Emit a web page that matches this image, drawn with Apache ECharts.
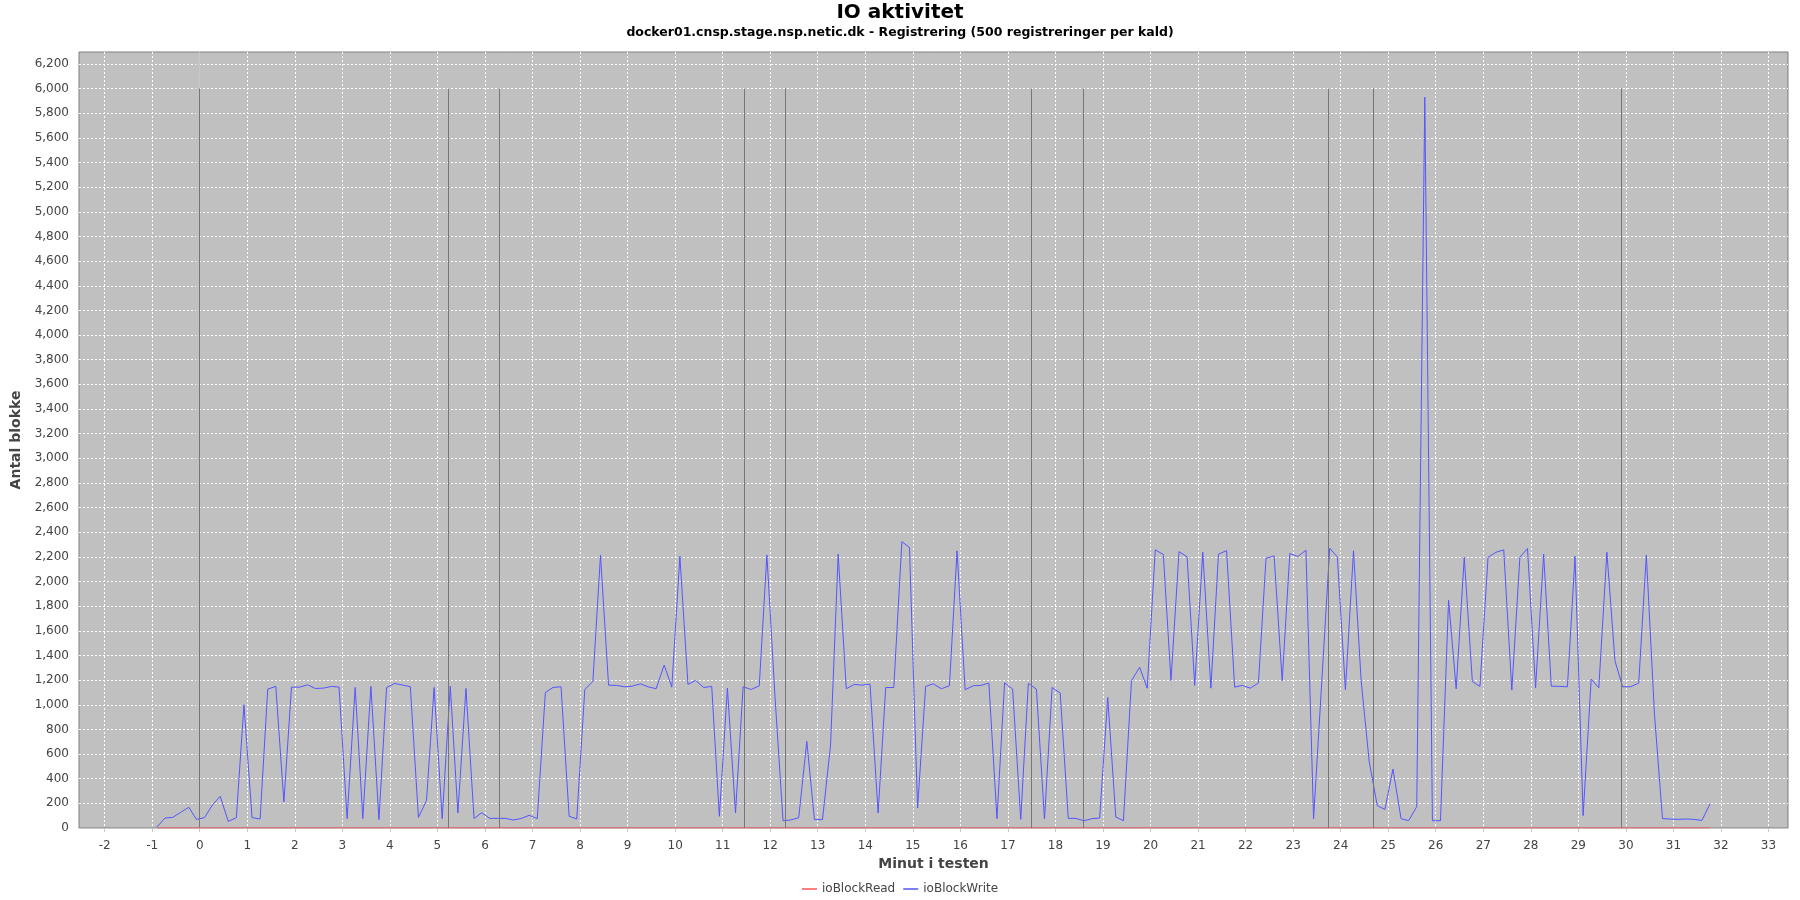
<!DOCTYPE html>
<html>
<head>
<meta charset="utf-8">
<script src="https://cdn.jsdelivr.net/npm/echarts@6/dist/echarts.min.js"></script>
<style>html,body{margin:0;padding:0;background:#fff}#c{width:1800px;height:900px}</style>
</head>
<body>
<div id="c"></div>
<script>
// sample times (minutes into the test)
const minutes = [-0.9,-0.73,-0.57,-0.4,-0.23,-0.07,
0.1,0.27,0.43,0.6,0.77,0.93, 1.1,1.27,1.43,1.6,1.77,1.93, 2.1,2.27,2.43,2.6,2.77,2.93,
3.1,3.27,3.43,3.6,3.77,3.93, 4.1,4.27,4.43,4.6,4.77,4.93, 5.1,5.27,5.43,5.6,5.77,5.93,
6.1,6.27,6.43,6.6,6.77,6.93, 7.1,7.27,7.43,7.6,7.77,7.93, 8.1,8.27,8.43,8.6,8.77,8.93,
9.1,9.27,9.43,9.6,9.77,9.93, 10.1,10.27,10.43,10.6,10.77,10.93, 11.1,11.27,11.43,11.6,11.77,11.93,
12.1,12.27,12.43,12.6,12.77,12.93, 13.1,13.27,13.43,13.6,13.77,13.93, 14.1,14.27,14.43,14.6,14.77,14.93,
15.1,15.27,15.43,15.6,15.77,15.93, 16.1,16.27,16.43,16.6,16.77,16.93, 17.1,17.27,17.43,17.6,17.77,17.93,
18.1,18.27,18.43,18.6,18.77,18.93, 19.1,19.27,19.43,19.6,19.77,19.93, 20.1,20.27,20.43,20.6,20.77,20.93,
21.1,21.27,21.43,21.6,21.77,21.93, 22.1,22.27,22.43,22.6,22.77,22.93, 23.1,23.27,23.43,23.6,23.77,23.93,
24.1,24.27,24.43,24.6,24.77,24.93, 25.1,25.27,25.43,25.6,25.77,25.93, 26.1,26.27,26.43,26.6,26.77,26.93,
27.1,27.27,27.43,27.6,27.77,27.93, 28.1,28.27,28.43,28.6,28.77,28.93, 29.1,29.27,29.43,29.6,29.77,29.93,
30.1,30.27,30.43,30.6,30.77,30.93, 31.1,31.27,31.43,31.6,31.77];

const ioBlockWrite = [8,81,86,127,168,70,
84,189,257,54,84,1000, 84,73,1127,1149,211,1143, 1143,1162,1132,1135,1149,1143,
76,1140,76,1149,68,1140, 1173,1160,1146,86,224,1140, 76,1151,122,1132,76,124,
78,78,78,65,78,103, 76,1100,1140,1146,95,73, 1124,1189,2214,1159,1157,1146,
1151,1170,1146,1130,1322,1143, 2205,1165,1197,1140,1149,95, 1135,122,1146,1124,1154,2216,
1070,59,65,84,703,68, 68,676,2222,1130,1165,1159, 1168,122,1140,1140,2324,2276,
162,1149,1170,1130,1154,2249, 1122,1154,1157,1176,76,1178, 1127,70,1173,1127,73,1140,
1095,78,78,59,76,81, 1059,89,59,1195,1305,1135, 2257,2219,1197,2243,2200,1157,
2238,1135,2222,2251,1143,1157, 1135,1176,2189,2208,1195,2227, 2203,2254,73,1170,2270,2200,
1122,2249,1200,540,181,151, 478,76,59,173,5930,59, 59,1849,1130,2197,1189,1149,
2197,2238,2257,1119,2197,2268, 1138,2222,1151,1149,1146,2205, 100,1208,1138,2238,1357,1146,
1146,1176,2214,930,76,73, 70,73,70,62,197];

const ioBlockRead = [0,0,0,0,0,0,
0,0,0,0,0,0, 0,0,0,0,0,0, 0,0,0,0,0,0,
0,0,0,0,0,0, 0,0,0,0,0,0, 0,0,0,0,0,0,
0,0,0,0,0,0, 0,0,0,0,0,0, 0,0,0,0,0,0,
0,0,0,0,0,0, 0,0,0,0,0,0, 0,0,0,0,0,0,
0,0,0,0,0,0, 0,0,0,0,0,0, 0,0,0,0,0,0,
0,0,0,0,0,0, 0,0,0,0,0,0, 0,0,0,0,0,0,
0,0,0,0,0,0, 0,0,0,0,0,0, 0,0,0,0,0,0,
0,0,0,0,0,0, 0,0,0,0,0,0, 0,0,0,0,0,0,
0,0,0,0,0,0, 0,0,0,0,0,0, 0,0,0,0,0,0,
0,0,0,0,0,0, 0,0,0,0,0,0, 0,0,0,0,0,0,
0,0,0,0,0,0, 0,0,0,0,0];

// phase markers (minutes) drawn from 0 up to markerTop
const markerMinutes = [0, 5.23, 6.29, 11.46, 12.31, 17.5, 18.59, 23.74, 24.69, 29.9];
const markerTop = 6000;

const xTicks = [-2,-1,0,1,2,3,4,5,6,7,8,9,10,11,12,13,14,15,16,17,18,19,20,21,22,23,24,25,26,27,28,29,30,31,32,33];
const yTicks = [0,200,400,600,800,1000,1200,1400,1600,1800,2000,2200,2400,2600,2800,3000,3200,3400,3600,3800,4000,4200,4400,4600,4800,5000,5200,5400,5600,5800,6000,6200];

const FONT = 'DejaVu Sans';
const chart = echarts.init(document.getElementById('c'), null, {renderer: 'canvas'});
const pairs = arr => minutes.map((m, i) => [m, arr[i]]);

chart.setOption({
  animation: false,
  backgroundColor: '#ffffff',
  title: [
    {text: 'IO aktivitet', left: 'center', top: 3, padding: 0,
     textStyle: {fontFamily: FONT, fontWeight: 'bold', fontSize: 20, color: '#000'}},
    {text: 'docker01.cnsp.stage.nsp.netic.dk - Registrering (500 registreringer per kald)', left: 'center', top: 26, padding: 0,
     textStyle: {fontFamily: FONT, fontWeight: 'bold', fontSize: 12.5, color: '#000'}}
  ],
  legend: {
    top: 878, left: 'center', icon: 'rect', itemWidth: 15, itemHeight: 1.5, itemGap: 8,
    textStyle: {fontFamily: FONT, fontSize: 12, color: '#444'},
    data: ['ioBlockRead', 'ioBlockWrite']
  },
  grid: {left: 79, right: 12, top: 52, bottom: 72, show: true, backgroundColor: '#c0c0c0', borderColor: '#7f7f7f', borderWidth: 1},
  xAxis: {
    type: 'value', min: -2.54, max: 33.41, offset: 3,
    name: 'Minut i testen', nameLocation: 'middle', nameGap: 25,
    nameTextStyle: {fontFamily: FONT, fontWeight: 'bold', fontSize: 14, color: '#444'},
    axisLine: {show: true, lineStyle: {color: '#c8c8c8', width: 1}},
    axisTick: {show: true, customValues: xTicks, length: 4, lineStyle: {color: '#c8c8c8'}},
    axisLabel: {customValues: xTicks, margin: 9, fontFamily: FONT, fontSize: 12, color: '#444'},
    splitLine: {show: true, lineStyle: {color: '#ffffff', width: 1, type: [2, 2]}}
  },
  yAxis: {
    type: 'value', min: 0, max: 6297, offset: 3,
    name: 'Antal blokke', nameLocation: 'middle', nameGap: 45, nameRotate: 90,
    nameTextStyle: {fontFamily: FONT, fontWeight: 'bold', fontSize: 14, color: '#444'},
    axisLine: {show: true, lineStyle: {color: '#c8c8c8', width: 1}},
    axisTick: {show: true, customValues: yTicks, length: 4, lineStyle: {color: '#c8c8c8'}},
    axisLabel: {customValues: yTicks, margin: 7, fontFamily: FONT, fontSize: 12, color: '#444',
                formatter: v => Number(v).toLocaleString('en-US')},
    splitLine: {show: true, lineStyle: {color: '#ffffff', width: 1, type: [2, 2]}}
  },
  series: [
    {name: 'ioBlockRead', type: 'line', data: pairs(ioBlockRead), symbol: 'none', z: 3,
     lineStyle: {color: '#ff5555', width: 1}, itemStyle: {color: '#ff5555'},
     markLine: {silent: true, symbol: 'none', label: {show: false}, animation: false,
       lineStyle: {color: '#777777', width: 1, type: 'solid'},
       data: markerMinutes.map(m => [{coord: [m, 0]}, {coord: [m, markerTop]}])}},
    {name: 'ioBlockWrite', type: 'line', data: pairs(ioBlockWrite), symbol: 'none', z: 4,
     lineStyle: {color: '#5555ff', width: 1}, itemStyle: {color: '#5555ff'}}
  ]
});
</script>
</body>
</html>
